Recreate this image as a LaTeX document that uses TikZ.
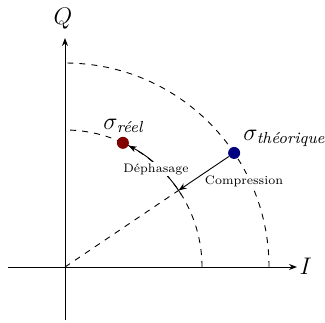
\documentclass[tikz,border=0pt]{standalone}
\usepackage{graphicx}
\usepackage{amsmath}
\usetikzlibrary{arrows.meta}
\begin{document}
\begin{tikzpicture}[x=1pt,y=1pt,>={Stealth[length=4pt,width=3pt]},
  axis/.style={->,line width=0.5pt},
  circ/.style={dashed,line width=0.45pt},
  dot/.style={circle,inner sep=0pt,minimum size=6pt},
  axlab/.style={font=\large},
  sig/.style={anchor=base west,inner sep=0pt,font=\large},
  lab/.style={fill=white,inner sep=0.5pt}]
\useasboundingbox (-32.5,-27.5) rectangle (130,133.5);
\coordinate (O) at (0,0);
\coordinate (xs) at (-28.5,0);
\coordinate (xe) at (116,0);
\coordinate (ys) at (0,-26.5);
\coordinate (ye) at (0,114.5);
\draw[axis] (xs) -- (xe);
\draw[axis] (ys) -- (ye);
\node[axlab] (I) at (120.4,0.5) {$I$};
\node[axlab] (Q) at (-1,124) {$Q$};
\draw[circ] (102,0) arc[start angle=0,end angle=90,radius=102];
\draw[circ] (68.5,0) arc[start angle=0,end angle=90,radius=68.5];
\coordinate (P) at (34:68.5);
\draw[circ] (O) -- (P);
\node[dot,fill=blue!50!black] (th) at (34:102) {};
\node[dot,fill=red!50!black] (re) at (65:68.5) {};
\draw[->,line width=0.45pt] (th) -- (P);
\draw[->,line width=0.45pt] (32:68.5) arc[start angle=32,end angle=62.3,radius=68.5];
\node[sig] (lre) at (19,69) {$\sigma_{\textit{réel}}$};
\node[sig] (lth) at (89,63.5) {$\sigma_{\textit{théorique}}$};
\node[lab] (dep) at (45.5,49) {\scalebox{0.88}{\scriptsize Déphasage}};
\node[lab] (comp) at (89.5,43) {\scalebox{0.88}{\scriptsize Compression}};
\end{tikzpicture}
\end{document}
